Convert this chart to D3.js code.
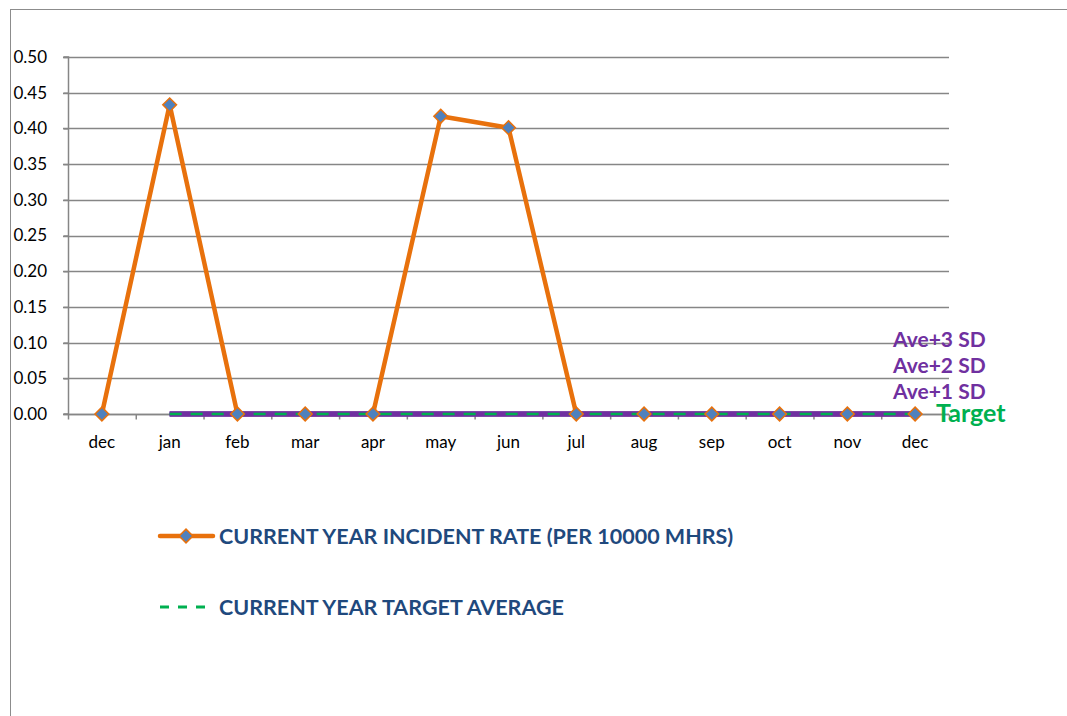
<!DOCTYPE html>
<html>
<head>
<meta charset="utf-8">
<script src="https://cdn.jsdelivr.net/npm/d3@7"></script>
<style>
  body { margin: 0; background: #fff; }
  text { font-family: Lato, "Open Sans", sans-serif; }
</style>
</head>
<body>
<div id="chart"></div>
<script>
const months = ["dec", "jan", "feb", "mar", "apr", "may", "jun", "jul", "aug", "sep", "oct", "nov", "dec"];
const incidentRate = [0, 0.433, 0, 0, 0, 0.417, 0.401, 0, 0, 0, 0, 0, 0];
const targetAverage = [null, 0, 0, 0, 0, 0, 0, 0, 0, 0, 0, 0, 0];
const ave1SD = [null, 0, 0, 0, 0, 0, 0, 0, 0, 0, 0, 0, 0];
const ave2SD = [null, 0, 0, 0, 0, 0, 0, 0, 0, 0, 0, 0, 0];
const ave3SD = [null, 0, 0, 0, 0, 0, 0, 0, 0, 0, 0, 0, 0];
const yTicks = [0, 0.05, 0.1, 0.15, 0.2, 0.25, 0.3, 0.35, 0.4, 0.45, 0.5];
const sdLabels = ["Ave+3 SD", "Ave+2 SD", "Ave+1 SD"];

const W = 1067, H = 716;
const svg = d3.select("#chart").append("svg")
  .attr("width", W).attr("height", H);

// outer frame
svg.append("rect")
  .attr("x", 10.5).attr("y", 9.5)
  .attr("width", W + 10).attr("height", H + 10)
  .attr("fill", "none").attr("stroke", "#8c8c8c");

const x0 = 68, x1 = 949, yTop = 57, yBot = 414;
const keys = months.map((m, i) => i);
const x = d3.scaleBand().domain(keys).range([x0, x1]);
const y = d3.scaleLinear().domain([0, 0.5]).range([yBot, yTop]);
const cx = i => x(i) + x.bandwidth() / 2;

// gridlines
svg.append("g").selectAll("line")
  .data(yTicks)
  .enter().append("line")
  .attr("x1", x0 - 5).attr("x2", x1)
  .attr("y1", d => Math.round(y(d)) + 0.5).attr("y2", d => Math.round(y(d)) + 0.5)
  .attr("stroke", "#868686").attr("stroke-width", 1.5);

// y axis
const yAxis = svg.append("g")
  .attr("transform", `translate(${x0 + 0.5},0)`)
  .call(d3.axisLeft(y).tickValues(yTicks).tickFormat(d3.format(".2f")).tickSize(5).tickPadding(6));
yAxis.selectAll("line, path").attr("stroke", "#868686").attr("stroke-width", 1.5);
yAxis.select(".domain").attr("d", `M-5,${yTop}H0V${yBot}H-5`);
yAxis.selectAll("text").attr("x", -55).attr("text-anchor", "start")
  .style("font-size", "17px").attr("fill", "#000");

// x axis: ticks at band boundaries
const xg = svg.append("g").attr("transform", `translate(0,${Math.round(yBot) + 0.5})`);
xg.append("line").attr("x1", x0).attr("x2", x1).attr("stroke", "#868686").attr("stroke-width", 1.5);
xg.selectAll(".tk")
  .data(keys.concat([keys.length]))
  .enter().append("line")
  .attr("x1", d => d < keys.length ? x(d) + 0.5 : x1 + 0.5)
  .attr("x2", d => d < keys.length ? x(d) + 0.5 : x1 + 0.5)
  .attr("y1", 0).attr("y2", 5)
  .attr("stroke", "#868686").attr("stroke-width", 1.5);
xg.selectAll("text")
  .data(keys)
  .enter().append("text")
  .attr("x", d => cx(d)).attr("y", 33)
  .attr("text-anchor", "middle")
  .style("font-size", "17px")
  .text(d => months[d]);

const line = d3.line()
  .defined(d => d[1] !== null)
  .x(d => cx(d[0])).y(d => y(d[1]));

// incident rate
svg.append("path")
  .attr("d", line(incidentRate.map((v, i) => [i, v])))
  .attr("fill", "none").attr("stroke", "#e8710c").attr("stroke-width", 4.5)
  .attr("stroke-linejoin", "round");

// SD lines (purple) and target (green dashed)
[ave3SD, ave2SD, ave1SD].forEach(s => {
  svg.append("path")
    .attr("d", line(s.map((v, i) => [i, v])))
    .attr("fill", "none").attr("stroke", "#7030a0").attr("stroke-width", 5);
});

svg.append("path")
  .attr("d", line(targetAverage.map((v, i) => [i, v])))
  .attr("fill", "none").attr("stroke", "#00b050").attr("stroke-width", 2.5)
  .attr("stroke-dasharray", "12,9");

const diamond = d3.symbol().type(d3.symbolDiamond2).size(120);
svg.append("g").selectAll("path")
  .data(incidentRate)
  .enter().append("path")
  .attr("d", diamond)
  .attr("transform", (d, i) => `translate(${cx(i)},${y(d)})`)
  .attr("fill", "#4f81bd").attr("stroke", "#e8710c").attr("stroke-width", 1.5);

// SD labels
svg.append("g").selectAll("text")
  .data(sdLabels)
  .enter().append("text")
  .attr("x", 893).attr("y", (d, i) => 347 + i * 26)
  .attr("fill", "#7030a0").attr("font-weight", "bold")
  .style("font-size", "21px")
  .text(d => d);
svg.append("text")
  .attr("x", 936).attr("y", 422)
  .attr("fill", "#00b050").attr("font-weight", "bold")
  .style("font-size", "25px")
  .text("Target");

// legend
const leg = svg.append("g");
leg.append("line").attr("x1", 160).attr("x2", 213).attr("y1", 536).attr("y2", 536)
  .attr("stroke", "#e8710c").attr("stroke-width", 4.5).attr("stroke-linecap", "round");
leg.append("path").attr("d", diamond).attr("transform", "translate(186,536)")
  .attr("fill", "#4f81bd").attr("stroke", "#e8710c").attr("stroke-width", 1.5);
leg.append("text").attr("x", 219).attr("y", 544)
  .attr("fill", "#1f497d").attr("font-weight", "bold").style("font-size", "21.5px")
  .text("CURRENT YEAR INCIDENT RATE (PER 10000 MHRS)");
leg.append("line").attr("x1", 160).attr("x2", 213).attr("y1", 607).attr("y2", 607)
  .attr("stroke", "#00b050").attr("stroke-width", 3).attr("stroke-dasharray", "9,9");
leg.append("text").attr("x", 219).attr("y", 615)
  .attr("fill", "#1f497d").attr("font-weight", "bold").style("font-size", "21.5px")
  .text("CURRENT YEAR TARGET AVERAGE");
</script>
</body>
</html>
